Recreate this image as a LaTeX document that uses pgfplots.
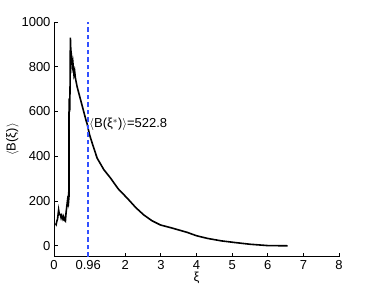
\documentclass[border=0pt]{standalone}
\usepackage{pgfplots}
\pgfplotsset{compat=1.18}
\usepackage{fontspec}
\setmainfont{Liberation Sans}
\begin{document}
\begin{tikzpicture}[x=1pt,y=1pt]
\path[use as bounding box] (0,0) rectangle (374,291);
\begin{axis}[
  at={(54pt,34pt)}, anchor=south west,
  scale only axis, width=285pt, height=235pt,
  xmin=0, xmax=8, ymin=-50, ymax=1000,
  axis lines=left, axis line style={-, line width=1pt},
  tick align=inside, major tick length=4pt,
  tick style={line width=0.9pt, black},
  xtick={0,0.96,2,3,4,5,6,7,8},
  xticklabels={0,0.96,2,3,4,5,6,7,8},
  ytick={0,200,400,600,800,1000},
  yticklabel style={/pgf/number format/1000 sep={}},
  tick label style={font=\fontsize{13}{15}\selectfont},
  /pgf/number format/assume math mode=true,
  xlabel={ξ}, ylabel={$\langle$B(ξ)$\rangle$},
  label style={font=\fontsize{13}{15}\selectfont},
  xlabel style={yshift=5pt},
  ylabel style={yshift=-4pt},
  clip=false,
]
\addplot[black, line width=1.6pt] coordinates {
(0.04,100) (0.06,95) (0.08,110) (0.10,120) (0.13,160) (0.15,140) (0.18,140)
(0.20,125) (0.22,135) (0.25,120) (0.27,130) (0.29,115) (0.32,110) (0.34,150)
(0.37,190) (0.38,175) (0.40,212) (0.41,200) (0.42,220) (0.42,580) (0.43,660)
(0.44,600) (0.45,700) (0.46,930) (0.47,880) (0.49,850) (0.51,800) (0.53,820)
(0.56,765) (0.58,780) (0.60,750) (0.65,710) (0.70,680) (0.75,650) (0.80,620)
(0.85,590) (0.90,560) (0.93,545) (0.96,522.8) (1.00,495) (1.10,445)
(1.21,392) (1.40,340) (1.59,302) (1.80,255) (2.06,212) (2.30,170) (2.52,138)
(2.75,112) (2.99,93) (3.30,80) (3.74,60) (4.00,45) (4.31,33) (4.70,22)
(5.06,15) (5.50,7) (6.00,1) (6.56,0)
};
\addplot[color={rgb,255:red,50;green,80;blue,255}, line width=1.6pt, dash pattern=on 4.5pt off 3pt] coordinates {(0.96,-50) (0.96,1000)};
\node[anchor=west, font=\fontsize{13}{15}\selectfont, inner sep=0pt] at (axis cs:0.99,541) {$\langle$B(ξ$^*$)$\rangle$=522.8};
\end{axis}
\end{tikzpicture}
\end{document}
